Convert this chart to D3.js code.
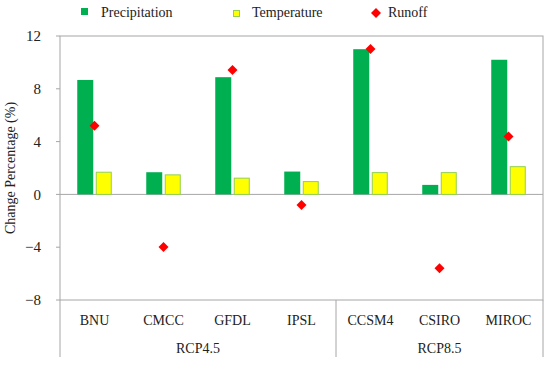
<!DOCTYPE html>
<html>
<head>
<meta charset="utf-8">
<script src="https://cdn.jsdelivr.net/npm/d3@7"></script>
<style>
  body { margin: 0; background: #fff; }
  text { font-family: "Liberation Serif", "Times New Roman", serif; fill: #222; }
</style>
</head>
<body>
<div id="chart"></div>
<script>
// values
const models = ["BNU", "CMCC", "GFDL", "IPSL", "CCSM4", "CSIRO", "MIROC"];
const scenarios = ["RCP4.5", "RCP4.5", "RCP4.5", "RCP4.5", "RCP8.5", "RCP8.5", "RCP8.5"];
const precipitation = [8.67, 1.68, 8.88, 1.73, 11.0, 0.72, 10.2];
const temperature = [1.68, 1.48, 1.23, 0.97, 1.65, 1.65, 2.1];
const runoff = [5.21, -3.98, 9.43, -0.8, 11.02, -5.6, 4.38];
const yTicks = [-8, -4, 0, 4, 8, 12];

const W = 550, H = 367;
const margin = { top: 36, right: 7, bottom: 67, left: 60 };
const width = W - margin.left - margin.right;
const height = H - margin.top - margin.bottom;

const svg = d3.select("#chart").append("svg")
    .attr("width", W)
    .attr("height", H);

const g = svg.append("g")
    .attr("transform", "translate(" + margin.left + "," + margin.top + ")");

const x = d3.scaleBand().domain(models).range([0, width]);
const y = d3.scaleLinear().domain([-8, 12]).range([height, 0]);

const frameColor = "#a6a6a6";
const barW = 16, gap = 2.5;

// frame
g.append("rect")
    .attr("x", 0).attr("y", 0)
    .attr("width", width).attr("height", height)
    .attr("fill", "none")
    .attr("stroke", frameColor);

// zero line
g.append("line")
    .attr("x1", 0).attr("x2", width)
    .attr("y1", y(0)).attr("y2", y(0))
    .attr("stroke", frameColor);

// y ticks
g.selectAll(".ytick")
    .data(yTicks)
    .enter().append("line")
    .attr("x1", -4).attr("x2", 0)
    .attr("y1", d => y(d)).attr("y2", d => y(d))
    .attr("stroke", frameColor);

g.selectAll(".ylab")
    .data(yTicks)
    .enter().append("text")
    .attr("x", -19)
    .attr("y", d => y(d))
    .attr("dy", "0.35em")
    .attr("text-anchor", "end")
    .attr("font-size", 15)
    .text(d => d < 0 ? "\u2212" + Math.abs(d) : d);

g.append("text")
    .attr("transform", "translate(-45," + (y(2)) + ") rotate(-90)")
    .attr("text-anchor", "middle")
    .attr("font-size", 14)
    .text("Change Percentage (%)");

// bars
g.selectAll(".precip")
    .data(precipitation)
    .enter().append("rect")
    .attr("x", (d, i) => x(models[i]) + x.bandwidth() / 2 - gap / 2 - barW)
    .attr("width", barW)
    .attr("y", d => y(Math.max(0, d)))
    .attr("height", d => Math.abs(y(d) - y(0)))
    .attr("fill", "#00b050");

g.selectAll(".temp")
    .data(temperature)
    .enter().append("rect")
    .attr("x", (d, i) => x(models[i]) + x.bandwidth() / 2 + gap / 2 + 0.5)
    .attr("width", barW - 1)
    .attr("y", d => y(Math.max(0, d)))
    .attr("height", d => Math.abs(y(d) - y(0)))
    .attr("fill", "#ffff00")
    .attr("stroke", "#92d050")
    .attr("stroke-width", 1);

// runoff diamonds
const diamond = d3.symbol().type(d3.symbolSquare).size(50);
g.selectAll(".runoff")
    .data(runoff)
    .enter().append("path")
    .attr("d", diamond)
    .attr("transform", (d, i) => "translate(" + (x(models[i]) + x.bandwidth() / 2) + "," + y(d) + ") rotate(45)")
    .attr("fill", "#ff0000");

// category axis below the frame
const catY = height + 20;
g.selectAll(".cat")
    .data(models)
    .enter().append("text")
    .attr("x", d => x(d) + x.bandwidth() / 2)
    .attr("y", catY)
    .attr("dy", "0.35em")
    .attr("text-anchor", "middle")
    .attr("font-size", 14)
    .text(d => d);

const groups = Array.from(new Set(scenarios)).map(s => {
    const idx = scenarios.map((v, i) => v === s ? i : -1).filter(i => i >= 0);
    return { name: s, x0: x(models[idx[0]]), x1: x(models[idx[idx.length - 1]]) + x.bandwidth() };
});

const bottomY = height + 57;
g.selectAll(".gsep")
    .data([0].concat(groups.map(d => d.x1)))
    .enter().append("line")
    .attr("x1", d => d).attr("x2", d => d)
    .attr("y1", height).attr("y2", bottomY)
    .attr("stroke", frameColor);

g.selectAll(".glab")
    .data(groups)
    .enter().append("text")
    .attr("x", d => (d.x0 + d.x1) / 2)
    .attr("y", height + 48)
    .attr("dy", "0.35em")
    .attr("text-anchor", "middle")
    .attr("font-size", 14)
    .text(d => d.name);

// legend
const legend = svg.append("g");
legend.append("rect")
    .attr("x", 81).attr("y", 8).attr("width", 7).attr("height", 7)
    .attr("fill", "#00b050");
legend.append("text")
    .attr("x", 101).attr("y", 12).attr("dy", "0.35em")
    .attr("font-size", 14).text("Precipitation");

legend.append("rect")
    .attr("x", 233.5).attr("y", 10.5).attr("width", 6).attr("height", 6)
    .attr("fill", "#ffff00").attr("stroke", "#92d050");
legend.append("text")
    .attr("x", 252).attr("y", 12).attr("dy", "0.35em")
    .attr("font-size", 14).text("Temperature");

legend.append("path")
    .attr("d", diamond)
    .attr("transform", "translate(376,13) rotate(45)")
    .attr("fill", "#ff0000");
legend.append("text")
    .attr("x", 388).attr("y", 12).attr("dy", "0.35em")
    .attr("font-size", 14).text("Runoff");
</script>
</body>
</html>
